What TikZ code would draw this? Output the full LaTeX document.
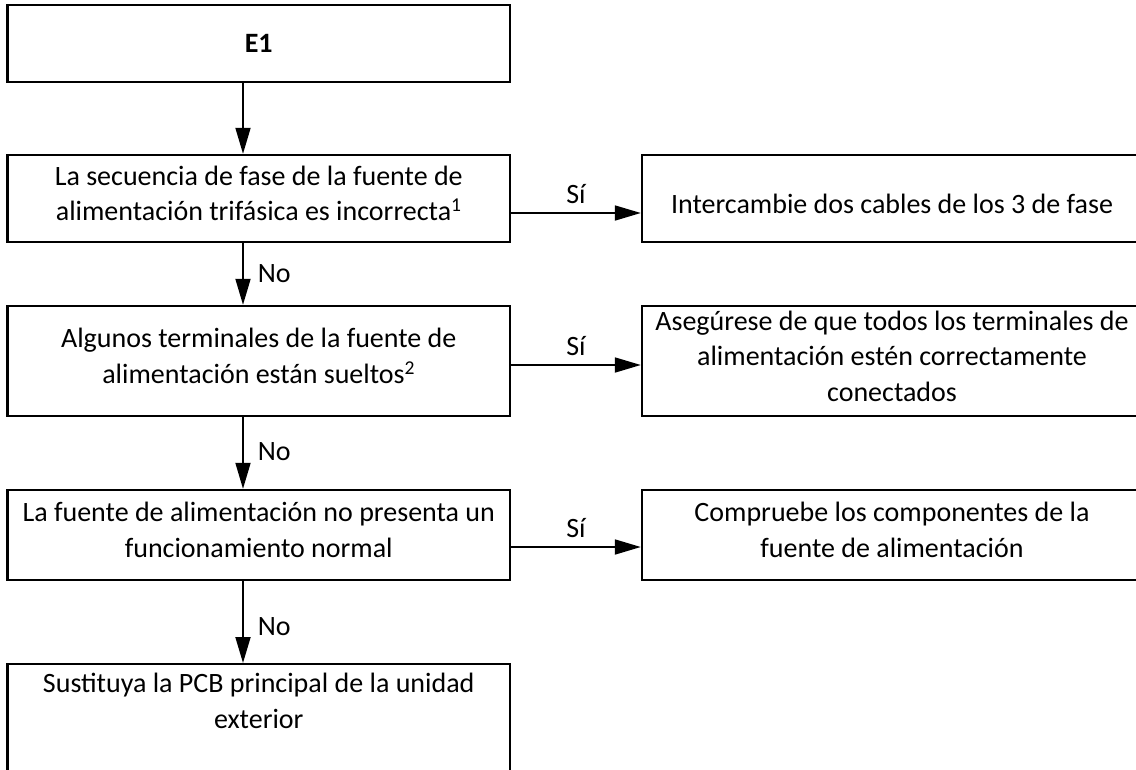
\documentclass[tikz,border=0pt]{standalone}
\usepackage{fontspec}
\setmainfont{Carlito}
\usetikzlibrary{arrows.meta}
\begin{document}
\begin{tikzpicture}[x=1pt,y=-1pt,
  box/.style={draw, line width=2.4pt, rectangle, inner sep=0pt},
  lbox/.style={box, minimum width=502.5pt},
  rbox/.style={box, minimum width=500pt},
  txt/.style={inner sep=0pt, align=center, font=\fontsize{28}{35.5}\selectfont},
  arr/.style={line width=1.8pt, -{Triangle[length=26pt,width=15pt]}},
  lab/.style={inner sep=0pt, font=\fontsize{28}{32}\selectfont}
]
\useasboundingbox (0,0) rectangle (1136,769);
\clip (0,0) rectangle (1136,769);
\fill[white] (0,0) rectangle (1136,769);

\node[lbox, minimum height=77pt, label={[txt]center:\textbf{E1}}] (e1) at (258.75,43.5) {};
\node[lbox, minimum height=87pt, label={[txt,yshift=5pt]center:{La secuencia de fase de la fuente de\\alimentación trifásica es incorrecta\textsuperscript{1}}}] (b2) at (258.75,198.5) {};
\node[rbox, minimum height=87pt, label={[txt,yshift=-5pt]center:{Intercambie dos cables de los 3 de fase}}] (r1) at (892,198.5) {};
\node[lbox, minimum height=110pt, label={[txt,yshift=5pt]center:{Algunos terminales de la fuente de\\alimentación están sueltos\textsuperscript{2}}}] (b3) at (258.75,361) {};
\node[rbox, minimum height=110pt, label={[txt,yshift=5pt]center:{Asegúrese de que todos los terminales de\\alimentación estén correctamente\\conectados}}] (r2) at (892,361) {};
\node[lbox, minimum height=90pt, label={[txt,yshift=5pt]center:{La fuente de alimentación no presenta un\\funcionamiento normal}}] (b4) at (258.75,535) {};
\node[rbox, minimum height=90pt, label={[txt,yshift=5pt]center:{Compruebe los componentes de la\\fuente de alimentación}}] (r3) at (892,535) {};
\node[lbox, minimum height=130pt, anchor=north] (b5) at (258.75,663) {};
\node[txt] (b5t) at (258.75,701) {Sustituya la PCB principal de la unidad\\exterior};

\draw[arr] ([xshift=-15.75pt]e1.south) -- ([xshift=-15.75pt]b2.north);
\draw[arr] ([xshift=-15.75pt]b2.south) -- node[lab, anchor=west, xshift=14pt, yshift=0pt] (n1) {No} ([xshift=-15.75pt]b3.north);
\draw[arr] ([xshift=-15.75pt]b3.south) -- node[lab, anchor=west, xshift=14pt, yshift=1pt] (n2) {No} ([xshift=-15.75pt]b4.north);
\draw[arr] ([xshift=-15.75pt]b4.south) -- node[lab, anchor=west, xshift=14pt, yshift=-5pt] (n3) {No} ([xshift=-15.75pt]b5.north);

\draw[arr] ([yshift=-14.5pt]b2.east) -- node[lab, anchor=base, yshift=10pt] (s1) {Sí} ([yshift=-14.5pt]r1.west);
\draw[arr] ([yshift=-4pt]b3.east) -- node[lab, anchor=base, yshift=10pt] (s2) {Sí} ([yshift=-4pt]r2.west);
\draw[arr] ([yshift=-12pt]b4.east) -- node[lab, anchor=base, yshift=10pt] (s3) {Sí} ([yshift=-12pt]r3.west);
\end{tikzpicture}
\end{document}
